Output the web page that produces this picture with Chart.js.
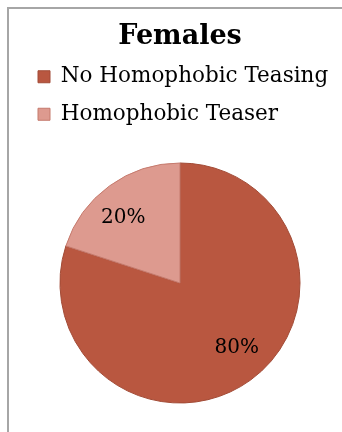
<!DOCTYPE html>
<html>
<head>
<meta charset="utf-8">
<title>Females</title>
<script src="https://cdn.jsdelivr.net/npm/chart.js@4/dist/chart.umd.min.js"></script>
<style>
    html, body { margin: 0; padding: 0; background: #ffffff; }
    #wrap { position: relative; width: 342px; height: 432px; overflow: hidden; }
    #frame {
        position: absolute; left: 7px; top: 7px; width: 400px; height: 500px;
        border-left: 2px solid #a6a6a6; border-top: 2px solid #a6a6a6;
    }
    #chart { position: absolute; left: 0; top: 0; }
</style>
</head>
<body>
<div id="wrap">
    <div id="frame"></div>
    <canvas id="chart" width="342" height="432"></canvas>
</div>
<script>
// Survey answers, percent of female respondents
const categories = ['No Homophobic Teasing', 'Homophobic Teaser'];
const shares = [80, 20];
const sliceColors = ['#b95740', '#dd9a8f'];
const sliceEdges = ['#a24b36', '#c57a6d'];

const serif = '"DejaVu Serif", "Liberation Serif", serif';

// Percent labels inside each slice, nudged a little counterclockwise
const sliceLabels = {
    id: 'sliceLabels',
    afterDatasetsDraw(chart) {
        const ctx = chart.ctx;
        const meta = chart.getDatasetMeta(0);
        const nudge = -5 * Math.PI / 180;
        ctx.save();
        ctx.font = '20px ' + serif;
        ctx.fillStyle = '#000000';
        ctx.textAlign = 'center';
        ctx.textBaseline = 'middle';
        meta.data.forEach((arc, i) => {
            const p = arc.getProps(['x', 'y', 'startAngle', 'endAngle', 'outerRadius'], true);
            const mid = (p.startAngle + p.endAngle) / 2 + nudge;
            const r = p.outerRadius * 0.72;
            ctx.fillText(shares[i] + '%', p.x + Math.cos(mid) * r, p.y + Math.sin(mid) * r);
        });
        ctx.restore();
    }
};

new Chart(document.getElementById('chart'), {
    type: 'pie',
    data: {
        labels: categories,
        datasets: [{
            data: shares,
            backgroundColor: sliceColors,
            borderColor: sliceEdges,
            borderWidth: 1,
            radius: 120
        }]
    },
    options: {
        responsive: false,
        animation: false,
        layout: {
            padding: { top: 8, left: 22, right: 4, bottom: 1 }
        },
        plugins: {
            title: {
                display: true,
                text: 'Females',
                color: '#000000',
                font: { family: serif, size: 27, weight: 'bold', lineHeight: 1 },
                padding: { top: 15, bottom: 0 }
            },
            legend: {
                position: 'top',
                align: 'start',
                labels: {
                    color: '#000000',
                    boxWidth: 12,
                    boxHeight: 12,
                    padding: 16,
                    font: { family: serif, size: 21.5 }
                }
            },
            tooltip: { enabled: false }
        }
    },
    plugins: [sliceLabels]
});
</script>
</body>
</html>
